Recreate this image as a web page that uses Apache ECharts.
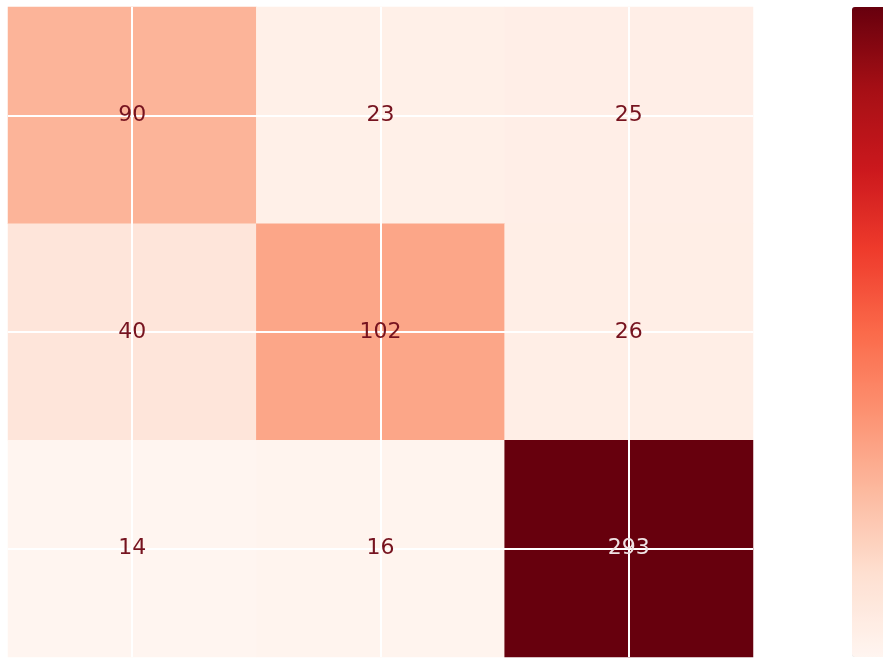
<!DOCTYPE html>
<html>
<head>
<meta charset="utf-8">
<script src="https://cdn.jsdelivr.net/npm/echarts@6/dist/echarts.min.js"></script>
<style>
html,body{margin:0;padding:0;background:#fff;}
#chart{width:883px;height:658px;}
</style>
</head>
<body>
<div id="chart"></div>
<script>
// Confusion-matrix data
const xCategories = ['0', '1', '2'];
const yCategories = ['2', '1', '0']; // bottom to top
const row0 = [90, 23, 25];   // top row
const row1 = [40, 102, 26];  // middle row
const row2 = [14, 16, 293];  // bottom row
const rows = [row0, row1, row2];

const redsColors = ['#fff5f0', '#fee0d2', '#fcbba1', '#fc9272', '#fb6a4a', '#ef3b2c', '#cb181d', '#a50f15', '#67000d'];

let vmin = Infinity, vmax = -Infinity;
rows.forEach(r => r.forEach(v => { vmin = Math.min(vmin, v); vmax = Math.max(vmax, v); }));
const threshold = (vmin + vmax) / 2;

const data = [];
const labelData = [];
rows.forEach(function (row, r) {
  row.forEach(function (v, c) {
    const pt = [xCategories[c], yCategories[2 - r], v];
    data.push(pt);
    labelData.push({
      value: pt,
      label: { color: v > threshold ? '#efe2e3' : '#76131f' }
    });
  });
});

const chart = echarts.init(document.getElementById('chart'));
chart.setOption({
  backgroundColor: '#ffffff',
  animation: false,
  grid: { left: 8, top: 7, width: 745, height: 650, containLabel: false },
  xAxis: { type: 'category', data: xCategories, show: false },
  yAxis: { type: 'category', data: yCategories, show: false },
  visualMap: {
    type: 'continuous',
    min: vmin, max: vmax,
    calculable: false,
    orient: 'vertical',
    left: 852, top: 7,
    itemWidth: 40, itemHeight: 650,
    padding: 0,
    text: null,
    showLabel: false,
    inRange: { color: redsColors },
    seriesIndex: 0
  },
  series: [{
    type: 'heatmap',
    data: data,
    z: 1,
    label: { show: false },
    itemStyle: { borderWidth: 0 },
    markLine: {
      silent: true,
      symbol: 'none',
      z: 2,
      label: { show: false },
      lineStyle: { color: '#ffffff', width: 2, type: 'solid', opacity: 1 },
      data: xCategories.map(c => ({ xAxis: c })).concat(yCategories.map(c => ({ yAxis: c })))
    }
  }, {
    type: 'scatter',
    z: 10,
    symbolSize: 0,
    silent: true,
    itemStyle: { opacity: 1 },
    data: labelData,
    label: {
      show: true,
      position: 'inside',
      fontFamily: 'DejaVu Sans',
      fontSize: 22,
      opacity: 1,
      formatter: function (p) { return String(p.value[2]); }
    }
  }]
});
</script>
</body>
</html>
